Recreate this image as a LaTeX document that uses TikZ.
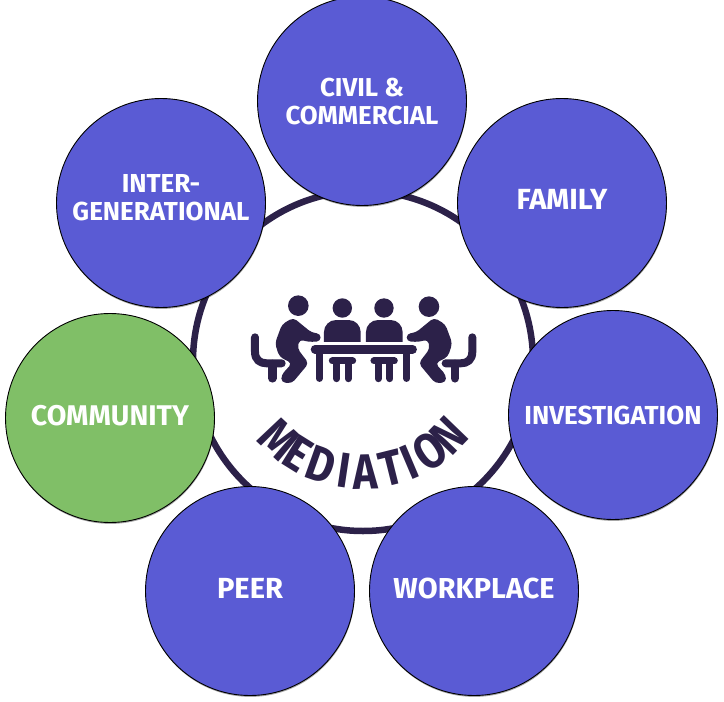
\documentclass[tikz,border=0pt]{standalone}
\usepackage{fontspec}
\setmainfont{Fira Sans}
\usetikzlibrary{shadows}
\definecolor{discblue}{HTML}{5A5BD4}
\definecolor{discgreen}{HTML}{80BF67}
\definecolor{inkdark}{HTML}{2C2149}
\tikzset{
  disc/.style={circle,draw=black,line width=0.9pt,fill=discblue,minimum size=209pt,inner sep=0pt,
    drop shadow={shadow xshift=0.4pt,shadow yshift=-1.4pt,opacity=.35,fill=black}},
  disclabel/.style={text=white,align=center,inner sep=0pt,font=\fontsize{26}{28.5}\selectfont\bfseries},
  ring/.style={circle,draw=inkdark,line width=6.5pt,fill=white,minimum size=340pt,inner sep=0pt},
  curveletter/.style={text=inkdark,inner sep=0pt,font=\fontsize{42}{42}\selectfont\bfseries},
  inkline/.style={draw=inkdark,line cap=round,line join=round}
}
\newcommand{\sitter}{%
  \fill[inkdark,rounded corners=4pt] (190,113) -- (245,158) -- (272,161) -- (272,184) -- (235,186) -- (209,178) -- (202,205) -- (236,250) -- (186,310) -- (154,307) -- (154,285) -- (186,250) -- (148,230) -- (135,190) -- (156,133) -- cycle;
  \path[inkline,line width=8pt] (75,172) -- (75,215) .. controls (75,240) and (90,250) .. (110,250) -- (155,250);
  \path[inkline,line width=8.5pt] (127,252) -- (127,295);
}
\begin{document}
\begin{tikzpicture}[x=1pt,y=-1pt]
\useasboundingbox (0,0) rectangle (724,702);
\node[ring] (hub) at (363,361) {};
\node[disc] (civil) at (362,101) {};
\node[disc] (family) at (562,203) {};
\node[disc] (investigation) at (613,415) {};
\node[disc] (workplace) at (474,591) {};
\node[disc] (peer) at (250,591) {};
\node[disc,fill=discgreen] (community) at (110,418) {};
\node[disc] (inter) at (161,203) {};
\node[disclabel] (civiltext) at ([yshift=-4pt]civil.center) {\resizebox{153pt}{!}{\begin{tabular}{@{}c@{}}CIVIL \&\\COMMERCIAL\end{tabular}}};
\node[disclabel] (familytext) at ([yshift=4pt]family.center) {\resizebox{91pt}{!}{FAMILY}};
\node[disclabel] (investigationtext) at (investigation.center) {\resizebox{177pt}{!}{INVESTIGATION}};
\node[disclabel] (workplacetext) at ([yshift=3pt]workplace.center) {\resizebox{161pt}{!}{WORKPLACE}};
\node[disclabel] (peertext) at ([yshift=3pt]peer.center) {\resizebox{66pt}{!}{PEER}};
\node[disclabel] (communitytext) at ([yshift=2pt]community.center) {\resizebox{158pt}{!}{COMMUNITY}};
\node[disclabel] (intertext) at ([yshift=2pt]inter.center) {\resizebox{177pt}{!}{\begin{tabular}{@{}c@{}}INTER-\\GENERATIONAL\end{tabular}}};
% curved word
\foreach \ch/\ang [count=\i] in {M/-43,E/-32,D/-19.5,I/-8.5,A/1.5,T/14,I/23,O/34,N/46}{
  \node[curveletter,rotate=\ang] (letter\i) at ({362+121*sin(\ang)},{351+121*cos(\ang)}) {\scalebox{1}[1.18]{\ch}};
}
% meeting icon
\begin{scope}[shift={(230,280)},x=0.3333pt,y=-0.3333pt]
  \fill[inkdark] (205,77) circle[radius=10.3pt];
  \fill[inkdark] (337,84) circle[radius=9.7pt];
  \fill[inkdark] (462,84) circle[radius=9.7pt];
  \fill[inkdark] (597,80) circle[radius=10.3pt];
  \fill[inkdark] (282,186) [rounded corners=12pt] -- (282,120) -- (392,120) [sharp corners] -- (392,186) -- cycle;
  \fill[inkdark] (408,186) [rounded corners=12pt] -- (408,120) -- (518,120) [sharp corners] -- (518,186) -- cycle;
  \path[inkline,line width=8.5pt] (255,208) -- (548,208);
  \path[inkline,line width=6.5pt] (268,208) -- (268,296) (530,208) -- (530,296);
  \path[inkline,line width=7pt] (307,243) -- (368,243) (320,243) -- (320,296) (355,243) -- (355,296);
  \path[inkline,line width=7pt] (432,243) -- (493,243) (445,243) -- (445,296) (480,243) -- (480,296);
  \sitter
  \begin{scope}[shift={(802,0)},xscale=-1]
    \sitter
  \end{scope}
\end{scope}
\end{tikzpicture}
\end{document}
